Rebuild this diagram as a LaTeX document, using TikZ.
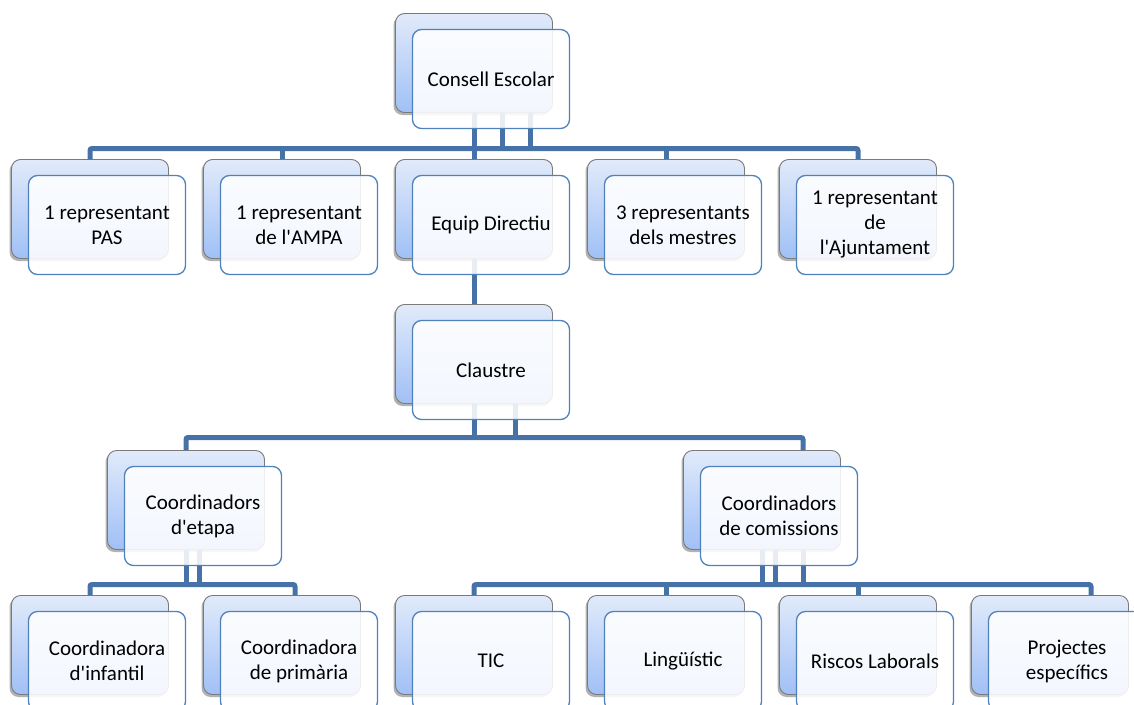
\documentclass[tikz,border=0pt]{standalone}
\usepackage{fontspec}
\newfontfamily\boxfontfam{Carlito}
\usetikzlibrary{shadows,calc}
\definecolor{backtop}{HTML}{E1EAFA}
\definecolor{backbot}{HTML}{A0C0F6}
\definecolor{backborder}{HTML}{7A7A7A}
\definecolor{frontborder}{HTML}{4F81BD}
\definecolor{connc}{HTML}{4672A8}
\tikzset{
  backbox/.style={draw=backborder, line width=0.9pt, rounded corners=9pt,
    minimum width=157pt, minimum height=99pt, inner sep=0pt,
    top color=backtop, bottom color=backbot,
    drop shadow={shadow xshift=-2pt, shadow yshift=-2.5pt, fill=black, opacity=0.3}},
  frontbox/.style={draw=frontborder, line width=1.3pt, rounded corners=9pt,
    minimum width=157pt, minimum height=99pt, inner sep=0pt,
    fill=white, fill opacity=0.88, text opacity=1, align=center,
    font=\boxfontfam\fontsize{21}{25}\selectfont},
  conn/.style={draw=connc, line width=5pt, rounded corners=2pt}
}
\begin{document}
\begin{tikzpicture}[x=1pt,y=-1pt]
\useasboundingbox (0,0) rectangle (1134,704);
% ---------- back boxes ----------
\node[backbox] (ceb)  at (474,63)  {};
\node[backbox] (pasb) at (90,209)  {};
\node[backbox] (ampb) at (282,209) {};
\node[backbox] (edb)  at (474,209) {};
\node[backbox] (mesb) at (666,209) {};
\node[backbox] (ajb)  at (858,209) {};
\node[backbox] (clb)  at (474,354) {};
\node[backbox] (etb)  at (186,500) {};
\node[backbox] (cmb)  at (762,500) {};
\node[backbox] (infb) at (90,645)  {};
\node[backbox] (prib) at (282,645) {};
\node[backbox] (ticb) at (474,645) {};
\node[backbox] (linb) at (666,645) {};
\node[backbox] (risb) at (858,645) {};
\node[backbox] (prob) at (1050,645) {};
% ---------- bus coordinates ----------
\coordinate (bus1) at (0,148.5);
\coordinate (bus2) at (0,437.5);
\coordinate (bus3) at (0,584.5);
% ---------- connectors level 1 ----------
\draw[conn] (pasb.north) -- (pasb.north |- bus1) -- (ajb.north |- bus1) -- (ajb.north);
\draw[conn] (ampb.north) -- (ampb.north |- bus1);
\draw[conn] (edb.north) -- (edb.north |- bus1);
\draw[conn] (mesb.north) -- (mesb.north |- bus1);
\draw[conn] (ceb.south) -- (ceb.south |- bus1);
\draw[conn] ($(ceb.south)+(28,0)$) -- ($(ceb.south |- bus1)+(28,0)$);
\draw[conn] ($(ceb.south)+(56,0)$) -- ($(ceb.south |- bus1)+(56,0)$);
% ---------- Equip -> Claustre ----------
\draw[conn] (edb.south) -- (clb.north);
% ---------- connectors level 2 ----------
\coordinate (etin) at ($(etb.north)$);
\coordinate (cmin) at ($(cmb.north)+(41,0)$);
\draw[conn] (etin) -- (etin |- bus2) -- (cmin |- bus2) -- (cmin);
\draw[conn] (clb.south) -- (clb.south |- bus2);
\draw[conn] ($(clb.south)+(41,0)$) -- ($(clb.south |- bus2)+(41,0)$);
% ---------- connectors level 3 (etapa) ----------
\coordinate (priin) at ($(prib.north)+(13,0)$);
\draw[conn] (infb.north) -- (infb.north |- bus3) -- (priin |- bus3) -- (priin);
\draw[conn] (etb.south) -- (etb.south |- bus3);
\draw[conn] ($(etb.south)+(13,0)$) -- ($(etb.south |- bus3)+(13,0)$);
% ---------- connectors level 3 (comissions) ----------
\coordinate (proin) at ($(prob.north)+(41,0)$);
\draw[conn] (ticb.north) -- (ticb.north |- bus3) -- (proin |- bus3) -- (proin);
\draw[conn] (linb.north) -- (linb.north |- bus3);
\draw[conn] (risb.north) -- (risb.north |- bus3);
\draw[conn] (cmb.south) -- (cmb.south |- bus3);
\draw[conn] ($(cmb.south)+(13,0)$) -- ($(cmb.south |- bus3)+(13,0)$);
\draw[conn] ($(cmb.south)+(41,0)$) -- ($(cmb.south |- bus3)+(41,0)$);
% ---------- front boxes ----------
\node[frontbox] (ce)  at (491,79)  {Consell Escolar};
\node[frontbox] (pas) at (107,225) {1 representant\\PAS};
\node[frontbox] (amp) at (299,225) {1 representant\\de l'AMPA};
\node[frontbox] (ed)  at (491,225) {Equip Directiu};
\node[frontbox] (mes) at (683,225) {3 representants\\dels mestres};
\node[frontbox] (aj)  at (875,225) {1 representant\\de\\l'Ajuntament};
\node[frontbox] (cl)  at (491,370) {Claustre};
\node[frontbox] (et)  at (203,516) {Coordinadors\\d'etapa};
\node[frontbox] (cm)  at (779,516) {Coordinadors\\de comissions};
\node[frontbox] (inf) at (107,661) {Coordinadora\\d'infantil};
\node[frontbox] (pri) at (299,661) {Coordinadora\\de primària};
\node[frontbox] (tic) at (491,661) {TIC};
\node[frontbox] (lin) at (683,661) {Lingüístic};
\node[frontbox] (ris) at (875,661) {Riscos Laborals};
\node[frontbox] (pro) at (1067,661) {Projectes\\específics};
\end{tikzpicture}
\end{document}
